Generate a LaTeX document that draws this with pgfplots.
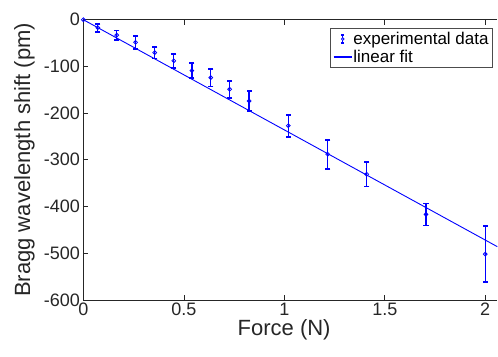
\documentclass[border=0pt]{standalone}
\usepackage{pgfplots}
\pgfplotsset{compat=1.18}
\usepackage{fontspec}
\setmainfont{Liberation Sans}
\definecolor{mblue}{rgb}{0,0,1}
\begin{document}
\begin{tikzpicture}
\begin{axis}[
  scale only axis, width=413.7pt, height=280pt,
  xmin=0, xmax=2.06, ymin=-600, ymax=0,
  axis x line*=box, axis y line*=left,
  axis line style={-, black!85, line width=0.6pt},
  xtick={0,0.5,1,1.5,2}, ytick={-600,-500,-400,-300,-200,-100,0},
  xticklabels={0,0.5,1,1.5,2},
  tick align=inside, major tick length=5pt,
  tick style={black!85, line width=0.6pt},
  ticklabel style={font=\fontsize{18}{20}\selectfont, text=black!85},
  /pgf/number format/assume math mode=true,
  xlabel={Force (N)}, ylabel={Bragg wavelength shift (pm)},
  label style={font=\fontsize{22}{24}\selectfont, text=black!85},
  xlabel style={at={(axis description cs:0.485,-0.108)}, anchor=center},
  ylabel style={at={(axis description cs:-0.1426,0.5)}, anchor=center},
  legend style={at={(rel axis cs:0.988,0.969)}, anchor=north east,
    draw=black!70, line width=0.5pt, font=\fontsize{17}{19}\selectfont,
    inner sep=2.5pt, row sep=2pt,
    cells={anchor=west}, nodes={inner sep=1pt}},
]
% error bar stems
\addplot[color=mblue, line width=1.3pt, unbounded coords=jump, forget plot] coordinates {
  (0.072,-25.5) (0.072,-8.5) (0.072,nan)
  (0.166,-43) (0.166,-23) (0.166,nan)
  (0.26,-62) (0.26,-35) (0.26,nan)
  (0.355,-83) (0.355,-58) (0.355,nan)
  (0.45,-103) (0.45,-73) (0.45,nan)
  (0.54,-125.5) (0.54,-92.5) (0.54,nan)
  (0.634,-143) (0.634,-105) (0.634,nan)
  (0.728,-167.5) (0.728,-130.5) (0.728,nan)
  (0.825,-195.5) (0.825,-152.5) (0.825,nan)
  (1.02,-250.5) (1.02,-203.5) (1.02,nan)
  (1.216,-319) (1.216,-257) (1.216,nan)
  (1.41,-357) (1.41,-305) (1.41,nan)
  (1.705,-440.5) (1.705,-393.5) (1.705,nan)
  (2.0,-562) (2.0,-442)
};
% error bar caps
\addplot[color=mblue, only marks, mark=-, mark size=2.6pt, mark options={color=mblue, line width=1.8pt}, forget plot] coordinates {
  (0.072,-25.5) (0.072,-8.5)
  (0.166,-43) (0.166,-23)
  (0.26,-62) (0.26,-35)
  (0.355,-83) (0.355,-58)
  (0.45,-103) (0.45,-73)
  (0.54,-125.5) (0.54,-92.5)
  (0.634,-143) (0.634,-105)
  (0.728,-167.5) (0.728,-130.5)
  (0.825,-195.5) (0.825,-152.5)
  (1.02,-250.5) (1.02,-203.5)
  (1.216,-319) (1.216,-257)
  (1.41,-357) (1.41,-305)
  (1.705,-440.5) (1.705,-393.5)
  (2.0,-562) (2.0,-442)
};
% data points
\addplot[color=mblue, only marks, mark=o, mark size=1.9pt, mark options={color=mblue, fill=mblue!30, line width=0.8pt},
  legend image code/.code={
  \draw[color=mblue, line width=1.2pt] (9pt,-4pt) -- (9pt,4pt);
  \draw[color=mblue, line width=1.6pt] (7.5pt,-4pt) -- (10.5pt,-4pt);
  \draw[color=mblue, line width=1.6pt] (7.5pt,4pt) -- (10.5pt,4pt);
  \draw[color=mblue, fill=mblue!30, line width=0.7pt] (9pt,0pt) circle (1.4pt);}]
  coordinates {
  (0,0) (0.072,-17) (0.166,-33) (0.26,-48.5) (0.355,-70.5) (0.45,-88)
  (0.54,-109) (0.634,-124) (0.728,-149) (0.825,-174) (1.02,-227)
  (1.216,-288) (1.41,-331) (1.705,-417) (2.0,-502)
  };
\addlegendentry{experimental data}
\addplot[color=mblue, line width=0.9pt,
  legend image code/.code={\draw[color=mblue, line width=1.3pt] (0pt,0pt) -- (18pt,0pt);}]
  coordinates {(0,0) (2.06,-486)};
\addlegendentry{linear fit}
\end{axis}
\pgfresetboundingbox
\path[use as bounding box] ([shift={(-83.3pt,-56.3pt)}]current axis.south west) rectangle ([shift={(0.7pt,19.7pt)}]current axis.north east);
\end{tikzpicture}
\end{document}
